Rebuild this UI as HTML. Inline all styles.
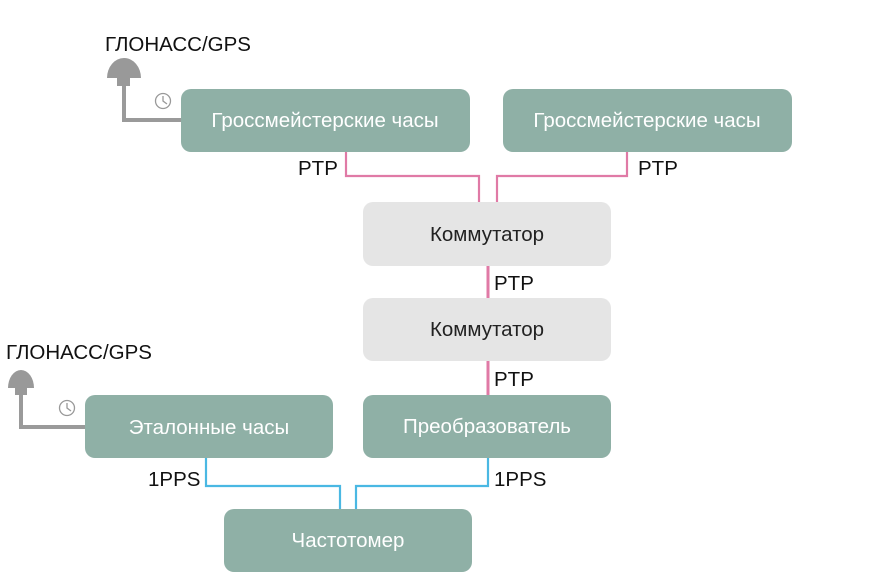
<!DOCTYPE html>
<html><head><meta charset="utf-8"><style>
html,body{margin:0;padding:0;background:#fff;}
svg{display:block;}
text{font-family:"Liberation Sans",Arial,sans-serif;}
</style></head><body>
<svg width="874" height="579" viewBox="0 0 874 579" xmlns="http://www.w3.org/2000/svg">
<g fill="none" stroke-width="2.2">
<polyline points="346,152 346,176 479,176 479,203" stroke="#e07aa6"/>
<polyline points="627,152 627,176 497,176 497,203" stroke="#e07aa6"/>
<line x1="488" y1="266" x2="488" y2="298" stroke="#e07aa6" stroke-width="3"/>
<line x1="488" y1="361" x2="488" y2="395" stroke="#e07aa6" stroke-width="3"/>
<polyline points="206,458 206,486 340,486 340,509" stroke="#4ab8e3"/>
<polyline points="488,458 488,486 356,486 356,509" stroke="#4ab8e3"/>
<polyline points="124,86 124,120 181,120" stroke="#9a9a9a" stroke-width="4"/>
<polyline points="21,394 21,427 85,427" stroke="#9a9a9a" stroke-width="4"/>
</g>
<path d="M107,78 A17,20 0 0 1 141,78 Z" fill="#999"/>
<rect x="117" y="78" width="13" height="8" fill="#999"/>
<path d="M8,388 A13,18 0 0 1 34,388 Z" fill="#999"/>
<rect x="15" y="388" width="12" height="7" fill="#999"/>
<g fill="none" stroke="#999" stroke-width="1.3">
<circle cx="163" cy="101" r="7.5"/><polyline points="163,96 163,101 167,104"/>
<circle cx="67" cy="408" r="7.5"/><polyline points="67,403 67,408 71,411"/>
</g>
<g fill="#8fb0a6">
<rect x="181" y="89" width="289" height="63" rx="10"/>
<rect x="503" y="89" width="289" height="63" rx="10"/>
<rect x="85" y="395" width="248" height="63" rx="10"/>
<rect x="363" y="395" width="248" height="63" rx="10"/>
<rect x="224" y="509" width="248" height="63" rx="10"/>
</g>
<g fill="#e5e5e5">
<rect x="363" y="202" width="248" height="64" rx="10"/>
<rect x="363" y="298" width="248" height="63" rx="10"/>
</g>
<g font-size="20.5" text-anchor="middle" fill="#fff">
<text x="325" y="127">Гроссмейстерские часы</text>
<text x="647" y="127">Гроссмейстерские часы</text>
<text x="209" y="434">Эталонные часы</text>
<text x="487" y="433">Преобразователь</text>
<text x="348" y="547">Частотомер</text>
</g>
<g font-size="20.5" text-anchor="middle" fill="#222">
<text x="487" y="241">Коммутатор</text>
<text x="487" y="336">Коммутатор</text>
</g>
<g font-size="20.5" fill="#111">
<text x="105" y="51">ГЛОНАСС/GPS</text>
<text x="6" y="359">ГЛОНАСС/GPS</text>
<text x="298" y="175">PTP</text>
<text x="638" y="175">PTP</text>
<text x="494" y="290">PTP</text>
<text x="494" y="386">PTP</text>
<text x="148" y="486">1PPS</text>
<text x="494" y="486">1PPS</text>
</g>
</svg>
</body></html>
